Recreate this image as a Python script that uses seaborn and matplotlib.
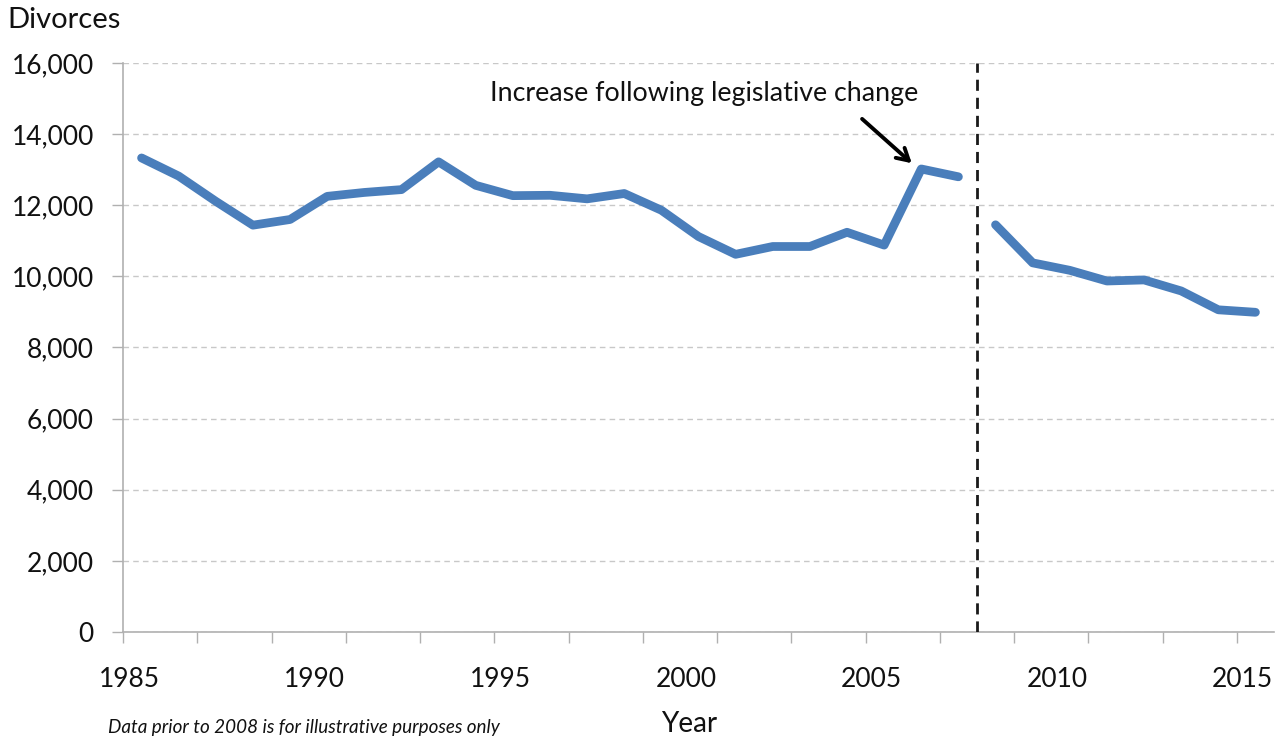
import matplotlib
matplotlib.use("Agg")
import matplotlib.pyplot as plt
from matplotlib.ticker import FuncFormatter, FixedLocator
import numpy as np
import pandas as pd
import seaborn as sns

# Annual divorces; the series is broken at 2008 where the data source changes
years_early = list(range(1985, 2008))
divorces_early = [13330, 12820, 12110, 11440, 11600, 12250, 12360, 12440, 13220,
                  12560, 12270, 12280, 12180, 12330, 11860, 11120, 10620, 10840,
                  10840, 11240, 10880, 13020, 12800]
years_late = list(range(2008, 2016))
divorces_late = [11450, 10380, 10170, 9870, 9900, 9590, 9060, 8990]

y_ticks = [0, 2000, 4000, 6000, 8000, 10000, 12000, 14000, 16000]
x_labels = [1985, 1990, 1995, 2000, 2005, 2010, 2015]
break_year = 2008
note_text = "Increase following legislative change"
footnote = "Data prior to 2008 is for illustrative purposes only"

sns.set_theme(style="white")
plt.rcParams["font.family"] = ["Lato", "DejaVu Sans"]

W, H = 1287, 744
fig = plt.figure(figsize=(W / 100, H / 100), dpi=100)
ax = fig.add_axes([123 / W, (H - 632) / H, (1274 - 123) / W, (632 - 63) / H])

line_color = "#4a7ebb"
df = pd.concat([
    pd.DataFrame({"year": years_early, "divorces": divorces_early, "period": "early"}),
    pd.DataFrame({"year": years_late, "divorces": divorces_late, "period": "late"}),
])
# each year occupies one category slot; points sit in the middle of the slot
df["pos"] = df["year"] + 0.5
for _, part in df.groupby("period"):
    sns.lineplot(data=part, x="pos", y="divorces", ax=ax, color=line_color,
                 linewidth=6.3, solid_capstyle="round", solid_joinstyle="round",
                 legend=False)

ax.set_xlim(1985, 2016)
ax.set_ylim(0, 16000)

# y axis
ax.yaxis.set_major_locator(FixedLocator(y_ticks))
ax.yaxis.set_major_formatter(FuncFormatter(lambda v, p: f"{int(v):,}"))
ax.grid(axis="y", color="#c8c8c8", linestyle=(0, (4, 3)), linewidth=1.0)
ax.grid(axis="x", visible=False)

# x axis: tick marks every two slots, labels every five years
ax.xaxis.set_minor_locator(FixedLocator(list(range(1985, 2016, 2))))
ax.xaxis.set_major_locator(FixedLocator([y + 0.16 for y in x_labels]))
ax.set_xticklabels([str(y) for y in x_labels])

ax.tick_params(axis="y", which="major", length=8, width=1, color="#b0b0b0",
               direction="out", pad=13, labelsize=19, labelcolor="#111111", left=True)
ax.tick_params(axis="x", which="major", length=0, pad=25, labelsize=19,
               labelcolor="#111111", bottom=True)
ax.tick_params(axis="x", which="minor", length=8, width=1, color="#b0b0b0",
               direction="out", bottom=True)

for side in ("top", "right"):
    ax.spines[side].set_visible(False)
for side in ("left", "bottom"):
    ax.spines[side].set_color("#b0b0b0")
    ax.spines[side].set_linewidth(1.2)

ax.set_xlabel("")
ax.set_ylabel("")

# boundary between the two data sources
ax.axvline(break_year, ymin=0, ymax=1, color="#1a1a1a", linestyle=(0, (4, 2.5)),
           linewidth=2, zorder=3)

# annotation
ax.annotate("", xy=(2006.3, 13130), xytext=(2004.85, 14480),
            arrowprops=dict(arrowstyle="->,head_length=0.7,head_width=0.4",
                            color="black", lw=2.8))
ax.text(2000.65, 15150, note_text, ha="center", va="center", fontsize=19.3,
        color="#111111")

fig.text(7 / W, 1 - 20 / H, "Divorces", ha="left", va="center", fontsize=21,
         color="#111111")
fig.text(689 / W, 1 - 724 / H, "Year", ha="center", va="center", fontsize=20,
         color="#111111")
fig.text(108 / W, 1 - 727 / H, footnote, ha="left", va="center", fontsize=13.6,
         style="italic", color="#111111")

fig.savefig("out.png", dpi=100)
